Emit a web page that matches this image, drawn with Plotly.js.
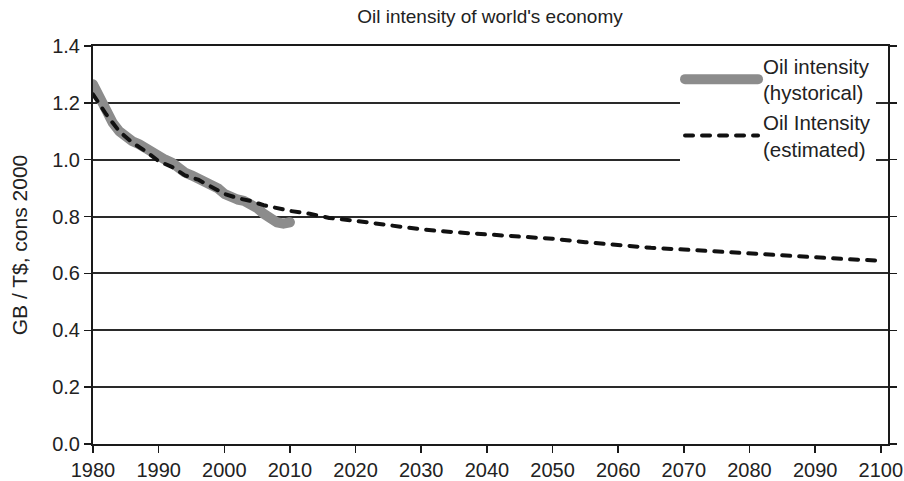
<!DOCTYPE html>
<html>
<head>
<meta charset="utf-8">
<script src="https://cdn.plot.ly/plotly-3.0.1.min.js"></script>
<style>
  html, body { margin: 0; padding: 0; background: #fff; }
  #chart { width: 904px; height: 481px; }
  .scatterlayer .js-line, .legendlines path { stroke-linecap: round; stroke-linejoin: round; }
</style>
</head>
<body>
<div id="chart"></div>
<script>
const histYears = [1980,1981,1982,1983,1984,1985,1986,1987,1988,1989,1990,1991,1992,1993,1994,1995,1996,1997,1998,1999,2000,2001,2002,2003,2004,2005,2006,2007,2008,2009,2010];
const histValues = [1.265,1.22,1.17,1.13,1.10,1.08,1.065,1.055,1.04,1.02,1.005,1.0,0.99,0.97,0.955,0.945,0.935,0.92,0.91,0.90,0.88,0.865,0.86,0.855,0.845,0.83,0.81,0.79,0.78,0.775,0.78];

const estYears = [1980,1982,1984,1986,1988,1990,1992,1994,1996,1998,2000,2002,2004,2006,2008,2010,2013,2016,2020,2025,2030,2035,2040,2045,2050,2055,2060,2065,2070,2075,2080,2085,2090,2095,2100];
const estValues = [1.23,1.16,1.10,1.06,1.03,0.995,0.975,0.945,0.93,0.905,0.88,0.865,0.855,0.84,0.83,0.82,0.81,0.795,0.785,0.77,0.755,0.745,0.737,0.73,0.722,0.71,0.70,0.69,0.684,0.677,0.67,0.662,0.656,0.65,0.645];

const yTicks = [0, 0.2, 0.4, 0.6, 0.8, 1.0, 1.2, 1.4];
const xTicks = [1980,1990,2000,2010,2020,2030,2040,2050,2060,2070,2080,2090,2100];

const FONT = 'Liberation Sans, Arial, sans-serif';
const INK = '#222';

const traces = [
  {
    x: histYears, y: histValues, type: 'scatter', mode: 'lines',
    name: 'Oil intensity<br>(hystorical)',
    line: { color: '#8c8c8c', width: 10 }
  },
  {
    x: estYears, y: estValues, type: 'scatter', mode: 'lines',
    name: 'Oil Intensity<br>(estimated)',
    line: { color: '#111111', width: 4, dash: '8px,9px' }
  }
];

const layout = {
  width: 904, height: 481,
  margin: { l: 93, r: 16, t: 46, b: 37 },
  paper_bgcolor: '#fff', plot_bgcolor: '#fff',
  title: { text: "Oil intensity of world's economy", font: { family: FONT, size: 19, color: INK }, x: 0.542, xanchor: 'center', y: 0.966, yanchor: 'middle' },
  xaxis: {
    range: [1980, 2101.1], tickvals: xTicks, ticktext: xTicks.map(String),
    showgrid: false, zeroline: false,
    showline: true, linecolor: '#1a1a1a', linewidth: 2, mirror: true,
    ticks: 'outside', ticklen: 7, tickwidth: 1.5, tickcolor: '#1a1a1a',
    tickfont: { family: FONT, size: 20, color: INK }
  },
  yaxis: {
    range: [0, 1.4], tickvals: yTicks, ticktext: yTicks.map(v => v.toFixed(1)),
    showgrid: true, gridcolor: '#2a2a2a', gridwidth: 2, zeroline: false,
    showline: true, linecolor: '#1a1a1a', linewidth: 2, mirror: 'ticks',
    ticks: 'outside', ticklen: 7, tickwidth: 1.5, tickcolor: '#1a1a1a',
    tickfont: { family: FONT, size: 20, color: INK },
    title: { text: 'GB / T$, cons 2000', font: { family: FONT, size: 21, color: INK }, standoff: 19 }
  },
  legend: {
    x: 0.7384, xanchor: 'left', y: 1, yanchor: 'top',
    bgcolor: '#ffffff', borderwidth: 0,
    font: { family: FONT, size: 20.5, color: INK },
    itemwidth: 73, tracegroupgap: 0
  },
  shapes: [
    { type: 'rect', xref: 'paper', yref: 'y', x0: 0.7283, x1: 1, y0: 0.95, y1: 1.4,
      fillcolor: '#ffffff', line: { width: 0 }, layer: 'between' }
  ],
  showlegend: true
};

Plotly.newPlot('chart', traces, layout, { displayModeBar: false, staticPlot: true });
</script>
</body>
</html>
